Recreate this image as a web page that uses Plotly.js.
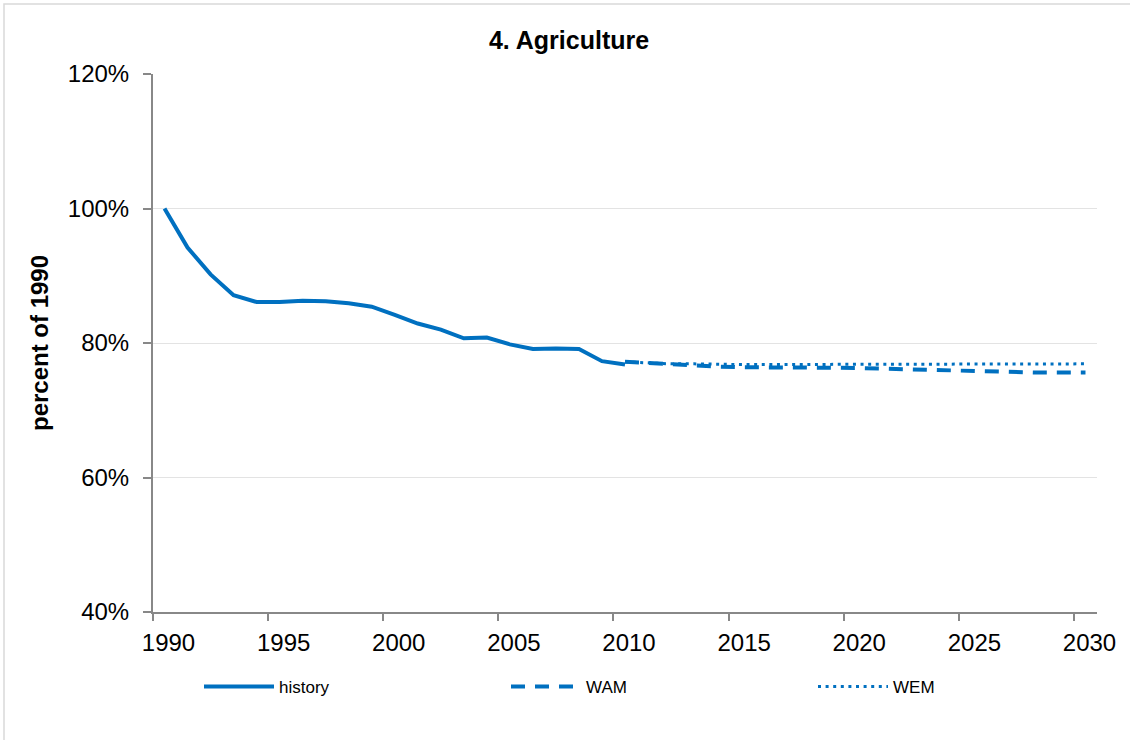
<!DOCTYPE html>
<html>
<head>
<meta charset="utf-8">
<script src="https://cdn.plot.ly/plotly-3.0.1.min.js"></script>
<style>
  html, body { margin: 0; padding: 0; background: #ffffff; }
  #chart { width: 1130px; height: 740px; }
</style>
</head>
<body>
<div id="chart"></div>
<script>
// ---- data (percent of 1990) ----
const historyYears = [1990,1991,1992,1993,1994,1995,1996,1997,1998,1999,2000,2001,2002,2003,2004,2005,2006,2007,2008,2009,2010];
const historyValues = [100.0,94.2,90.2,87.1,86.1,86.1,86.3,86.2,85.9,85.4,84.2,82.9,82.0,80.7,80.8,79.8,79.1,79.2,79.1,77.3,76.8];

const projYears = [2010,2011,2012,2013,2014,2015,2016,2017,2018,2019,2020,2021,2022,2023,2024,2025,2026,2027,2028,2029,2030];
const wamValues = [77.2,77.0,76.8,76.7,76.5,76.4,76.4,76.4,76.3,76.3,76.3,76.2,76.1,76.0,75.9,75.8,75.7,75.6,75.6,75.6,75.6];
const wemValues = [77.2,77.0,76.9,76.9,76.8,76.8,76.8,76.8,76.9,76.9,76.9,76.9,76.9,76.9,76.9,76.8,76.8,76.8,76.9,76.9,76.9];

const xTickVals = [1990,1995,2000,2005,2010,2015,2020,2025,2030];
const xTickText = ['1990','1995','2000','2005','2010','2015','2020','2025','2030'];
const yTickVals = [40,60,80,100,120];
const yTickText = ['40%','60%','80%','100%','120%'];

const blue = '#0070C0';
const font = 'Liberation Sans, Arial, sans-serif';

const traces = [
  { x: historyYears, y: historyValues, name: 'history', type: 'scatter', mode: 'lines',
    line: { color: blue, width: 4 } },
  { x: projYears, y: wamValues, name: 'WAM', type: 'scatter', mode: 'lines',
    line: { color: blue, width: 4, dash: '14px,10px' } },
  { x: projYears, y: wemValues, name: 'WEM', type: 'scatter', mode: 'lines',
    line: { color: blue, width: 3, dash: '3px,4.6px' } }
];

const layout = {
  width: 1130, height: 740,
  margin: { l: 153, r: 33, t: 74, b: 127.5 },
  paper_bgcolor: '#ffffff', plot_bgcolor: '#ffffff',
  font: { family: font, color: '#000000', size: 24 },
  title: { text: '<b>4. Agriculture</b>', font: { family: font, size: 25, color: '#000' },
           x: 569/1130, xref: 'container', y: 1 - 40/740, yref: 'container', yanchor: 'middle' },
  showlegend: true,
  legend: { orientation: 'h', xref: 'container', x: 199/1130, xanchor: 'left',
            yref: 'container', y: 1 - 687/740, yanchor: 'middle',
            font: { family: font, size: 17, color: '#000' }, entrywidth: 222, entrywidthmode: 'pixels',
            itemwidth: 70, bgcolor: 'rgba(0,0,0,0)', traceorder: 'normal' },
  xaxis: {
    range: [1989.5, 2030.5], tickmode: 'array', tickvals: xTickVals, ticktext: xTickText,
    ticks: '', showgrid: false, zeroline: false,
    showline: true, linecolor: '#888888', linewidth: 2,
    tickfont: { family: font, size: 24, color: '#000' }, ticklabelshift: 4, ticklabelstandoff: 8,
    minor: { tick0: 1989.5, dtick: 5, ticks: 'outside', ticklen: 7, tickwidth: 2, tickcolor: '#888888', showgrid: false }
  },
  yaxis: {
    range: [40, 120], tickmode: 'array', tickvals: yTickVals, ticktext: yTickText,
    ticks: 'outside', ticklen: 8, tickwidth: 2, tickcolor: '#888888', ticklabelstandoff: 9,
    showgrid: true, gridcolor: '#e3e3e3', gridwidth: 1, zeroline: false,
    showline: true, linecolor: '#888888', linewidth: 2,
    tickfont: { family: font, size: 24, color: '#000' },
    title: { text: '<b>percent of 1990</b>', font: { family: font, size: 24, color: '#000' }, standoff: 12 }
  },
  shapes: [
    { type: 'rect', xref: 'paper', yref: 'paper',
      x0: (4 - 153)/944, x1: (1140 - 153)/944, y0: (612.5 - 750)/538.4, y1: (612.5 - 4)/538.4,
      line: { color: '#d9d9d9', width: 1.5 }, fillcolor: 'rgba(0,0,0,0)', layer: 'below' }
  ]
};

Plotly.newPlot('chart', traces, layout, { displayModeBar: false, staticPlot: true });
</script>
</body>
</html>
